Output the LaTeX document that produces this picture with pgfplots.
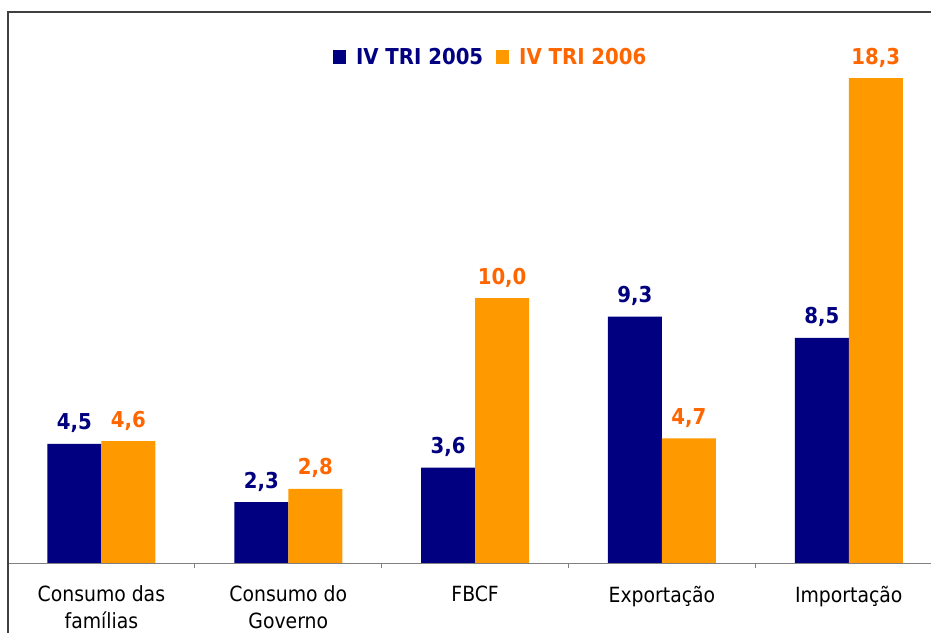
\documentclass[border=0pt]{standalone}
\usepackage{pgfplots}
\pgfplotsset{compat=1.18}
\usepackage{fontspec}
\setmainfont{DejaVu Sans Condensed}
\definecolor{navyb}{HTML}{000080}
\definecolor{orb}{HTML}{FF9900}
\definecolor{ort}{HTML}{FF6600}
\begin{document}
\begin{tikzpicture}
\begin{axis}[
  at={(0,0)}, anchor=south west,
  scale only axis, width=923bp, height=551bp,
  xmin=-0.5, xmax=4.44, ymin=0, ymax=20.8,
  axis line style={draw=none},
  ybar=0pt, bar width=54bp,
  xtick={0,1,2,3,4},
  xticklabels={Consumo das\\famílias, Consumo do\\Governo, FBCF, Exportação, Importação},
  xticklabel style={align=center, font=\fontsize{21}{27}\selectfont, anchor=north, yshift=-15bp},
  major x tick style={draw=none},
  minor xtick={0.5,1.5,2.5,3.5},
  minor tick length=5bp, tick align=outside,
  minor x tick style={gray, line width=1bp},
  xtick pos=bottom,
  ytick=\empty,
  /pgf/number format/assume math mode=true,
  nodes near coords={\pgfmathprintnumber[fixed,fixed zerofill,precision=1,use comma]{\pgfplotspointmeta}},
  every node near coord/.append style={anchor=base, yshift=14bp, inner sep=0pt, font=\fontsize{22}{26}\selectfont\bfseries},
  legend style={at={(0.523,0.918)}, anchor=center, draw=none, fill=none,
    font=\fontsize{22}{26}\selectfont\bfseries, legend columns=2,
    /tikz/every even column/.append style={column sep=11bp},
    legend cell align=left, inner sep=0pt},
  legend image code/.code={\fill[#1, draw=none] (0bp,-7bp) rectangle (13bp,7bp); \path (21bp,0bp);},
]
\addplot[fill=navyb, draw=none, every node near coord/.append style={text=navyb}] coordinates {(0,4.5) (1,2.3) (2,3.6) (3,9.3) (4,8.5)};
\addplot[fill=orb, draw=none, every node near coord/.append style={text=ort}] coordinates {(0,4.6) (1,2.8) (2,10.0) (3,4.7) (4,18.3)};
\legend{\textcolor{navyb}{IV TRI 2005}, \textcolor{ort}{IV TRI 2006}}
\draw[gray, line width=1bp] (rel axis cs:0,0) -- (rel axis cs:1,0);
\end{axis}
\draw[black!75, line width=2.2bp] (0,-80bp) -- (0,551bp) -- (930bp,551bp);
\pgfresetboundingbox
\useasboundingbox (-8bp,-70bp) rectangle (923bp,563bp);
\end{tikzpicture}
\end{document}
